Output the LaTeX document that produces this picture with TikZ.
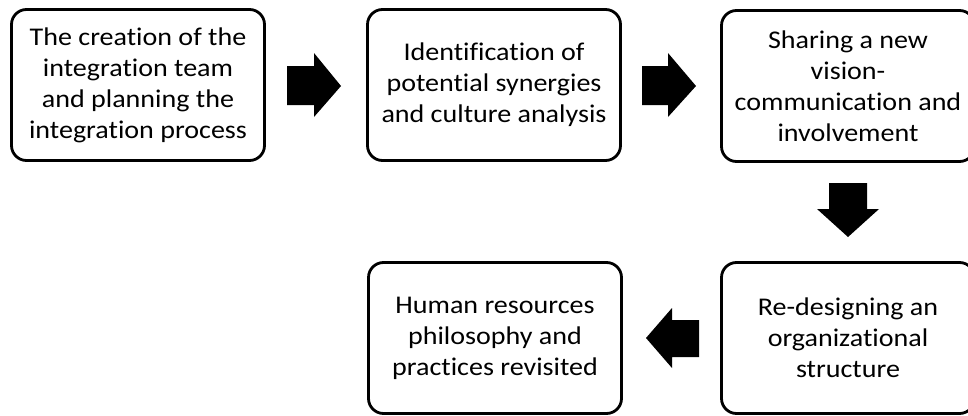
\documentclass[tikz,border=0pt]{standalone}
\usepackage{fontspec}
\setmainfont{Carlito}[Ligatures=NoCommon, FakeStretch=1.1]
\usepackage{tikz}

\begin{document}
\begin{tikzpicture}[x=1pt,y=-1pt,
    stagebox/.style={draw=black, line width=2.8pt, rounded corners=15pt,
        minimum width=253pt, minimum height=151pt, align=center,
        font=\fontsize{25.5}{31}\selectfont},
    blockarrow/.style={fill=black}]
            \useasboundingbox (0,0) rectangle (968,415);

            % the five stages
            \node[stagebox] at (138,85) (team) {The creation of the\\integration team\\and planning the\\integration process};
            \node[stagebox] at (494,85) (synergy) {Identification of\\potential synergies\\and culture analysis};
            \node[stagebox] at (848,86) (vision) {Sharing a new\\vision-\\communication and\\involvement};
            \node[stagebox] at (848,338) (redesign) {Re-designing an\\organizational\\structure};
            \node[stagebox] at (495,338) (hrm) {Human resources\\philosophy and\\practices revisited};

            % block arrows
            \fill[blockarrow] (287,66) -- (314,66) -- (314,53) -- (341,86) -- (314,117) -- (314,105) -- (287,105) -- cycle;
            \fill[blockarrow] (642,66) -- (668,66) -- (668,53) -- (696,86) -- (668,117) -- (668,105) -- (642,105) -- cycle;
            \fill[blockarrow] (829,183) -- (867,183) -- (867,209) -- (879,209) -- (848,237) -- (817,209) -- (829,209) -- cycle;
            \fill[blockarrow] (699,320) -- (672,320) -- (672,308) -- (646,338) -- (672,368) -- (672,357) -- (699,357) -- cycle;
        \end{tikzpicture}
\end{document}
